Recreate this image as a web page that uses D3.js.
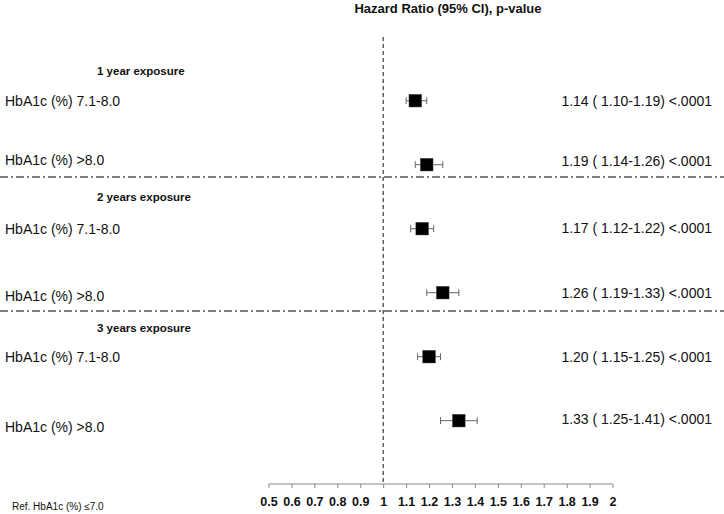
<!DOCTYPE html>
<html>
<head>
<meta charset="utf-8">
<script src="https://cdn.jsdelivr.net/npm/d3@7"></script>
<style>
  html, body { margin: 0; padding: 0; background: #fff; }
  svg { display: block; font-family: "Liberation Sans", Arial, sans-serif; }
</style>
</head>
<body>
<svg id="chart" width="724" height="514"></svg>
<script>
// ---- data ----
const groups = ["1 year exposure", "2 years exposure", "3 years exposure"];
const rowLabels = ["HbA1c (%) 7.1-8.0", "HbA1c (%) >8.0", "HbA1c (%) 7.1-8.0", "HbA1c (%) >8.0", "HbA1c (%) 7.1-8.0", "HbA1c (%) >8.0"];
const rowGroup = [0, 0, 1, 1, 2, 2];
const hr = [1.14, 1.19, 1.17, 1.26, 1.20, 1.33];
const ciLow = [1.10, 1.14, 1.12, 1.19, 1.15, 1.25];
const ciHigh = [1.19, 1.26, 1.22, 1.33, 1.25, 1.41];
const pValues = ["<.0001", "<.0001", "<.0001", "<.0001", "<.0001", "<.0001"];
const ticks = [0.5, 0.6, 0.7, 0.8, 0.9, 1, 1.1, 1.2, 1.3, 1.4, 1.5, 1.6, 1.7, 1.8, 1.9, 2];
const title = "Hazard Ratio (95% CI), p-value";
const footnote = "Ref. HbA1c (%) \u22647.0";

// ---- layout ----
const svg = d3.select("#chart");
const x = d3.scaleLinear().domain([0.5, 2]).range([268.5, 612.5]);
const y = d3.scaleLinear().domain([0, 5]).range([100.7, 420.7]);
const axisY = 484;
const labelDy = [0.5, -4.5, 0.5, 3.5, 0.5, 6.5];
const textDy = [0, -4, -0.5, 0.5, 0, -2];
const groupY = [71, 197, 328];
const sepY = [177, 311];
const fmt = d3.format(".2f");

// title
svg.append("text").attr("x", 448).attr("y", 8).attr("dy", "0.35em")
  .attr("text-anchor", "middle").attr("font-weight", "bold").attr("font-size", 13)
  .attr("fill", "#111").text(title);

// separators
svg.selectAll("line.sep").data(sepY).enter().append("line")
  .attr("class", "sep").attr("x1", 0).attr("x2", 724)
  .attr("y1", d => d).attr("y2", d => d)
  .attr("stroke", "#555").attr("stroke-width", 1.3)
  .attr("stroke-dasharray", "8,3,2,3");

// reference line at 1
svg.append("line").attr("x1", x(1)).attr("x2", x(1)).attr("y1", 37).attr("y2", axisY)
  .attr("stroke", "#111").attr("stroke-width", 1).attr("stroke-dasharray", "4,3");

// group headers
svg.selectAll("text.grp").data(groups).enter().append("text")
  .attr("class", "grp").attr("x", 97).attr("y", (d, i) => groupY[i]).attr("dy", "0.35em")
  .attr("font-weight", "bold").attr("font-size", 11.5).attr("fill", "#111").text(d => d);

// row labels
svg.selectAll("text.lab").data(rowLabels).enter().append("text")
  .attr("class", "lab").attr("x", 5).attr("y", (d, i) => y(i) + labelDy[i]).attr("dy", "0.35em")
  .attr("font-size", 14).attr("fill", "#111").text(d => d);

// CI whiskers
const g = svg.append("g");
hr.forEach((v, i) => {
  const cy = y(i);
  g.append("line").attr("x1", x(ciLow[i])).attr("x2", x(ciHigh[i])).attr("y1", cy).attr("y2", cy)
    .attr("stroke", "#666").attr("stroke-width", 1);
  [ciLow[i], ciHigh[i]].forEach(c => {
    g.append("line").attr("x1", x(c)).attr("x2", x(c)).attr("y1", cy - 3.5).attr("y2", cy + 3.5)
      .attr("stroke", "#666").attr("stroke-width", 1);
  });
});

// markers
const s = 12.5;
svg.selectAll("rect.pt").data(hr).enter().append("rect")
  .attr("class", "pt").attr("x", d => x(d) - s / 2).attr("y", (d, i) => y(i) - s / 2)
  .attr("width", s).attr("height", s).attr("fill", "#000")
  .attr("stroke", "#333").attr("stroke-width", 0.5);

// right texts
svg.selectAll("text.val").data(hr).enter().append("text")
  .attr("class", "val").attr("x", 712).attr("y", (d, i) => y(i) + textDy[i]).attr("dy", "0.35em")
  .attr("text-anchor", "end").attr("font-size", 14).attr("fill", "#111")
  .text((d, i) => `${fmt(d)} ( ${fmt(ciLow[i])}-${fmt(ciHigh[i])}) ${pValues[i]}`);

// axis
const axis = d3.axisBottom(x).tickValues(ticks).tickSize(4).tickPadding(9)
  .tickFormat(d => d3.format("")(d));
const ag = svg.append("g").attr("transform", `translate(0,${axisY})`).call(axis);
ag.select(".domain").attr("stroke", "#888").attr("d", `M${x(0.5)},0H${x(2)}`);
ag.selectAll(".tick line").attr("stroke", "#888");
ag.selectAll(".tick text").attr("font-family", "Liberation Sans, Arial, sans-serif")
  .attr("font-weight", "bold").attr("font-size", 12.5).attr("fill", "#111");

// footnote
svg.append("text").attr("x", 12).attr("y", 506).attr("dy", "0.35em")
  .attr("font-size", 10).attr("fill", "#111").text(footnote);
</script>
</body>
</html>
